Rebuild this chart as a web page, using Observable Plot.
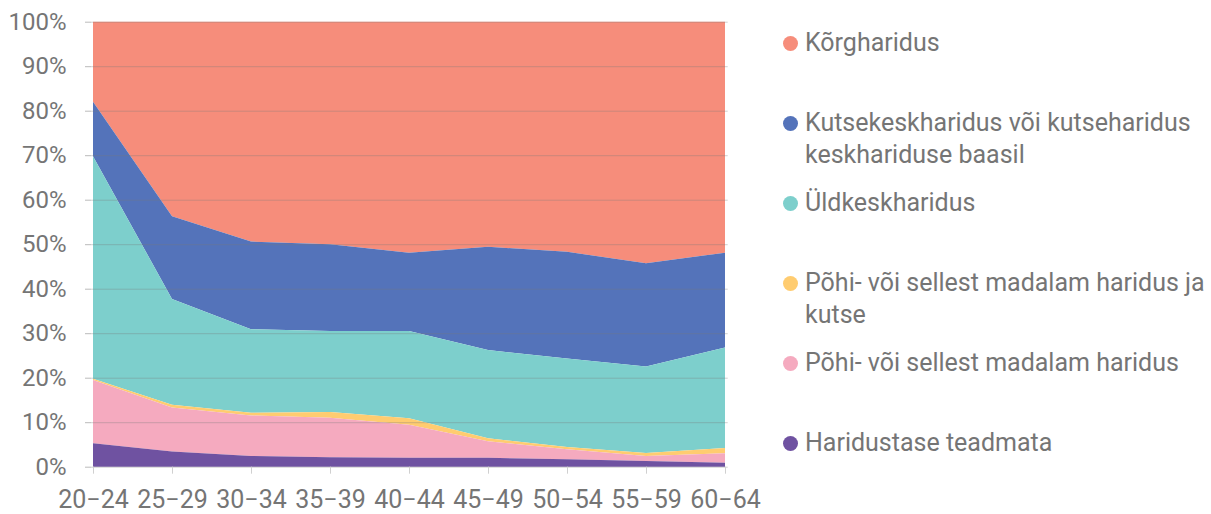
<!DOCTYPE html>
<html><head><meta charset="utf-8">
<script src="https://cdn.jsdelivr.net/npm/d3@7"></script>
<script src="https://cdn.jsdelivr.net/npm/@observablehq/plot@0.6"></script>
<style>
body{margin:0;background:#fff;font-family:Roboto,sans-serif;}
#wrap{position:relative;width:1211px;height:514px;overflow:hidden;}
#chart{position:absolute;left:0;top:0;}
#legend{position:absolute;left:783px;top:27px;}
.item{display:flex;align-items:flex-start;height:80px;}
.dot{width:15px;height:15px;border-radius:50%;margin-top:8.5px;flex:none;}
.lab{margin-left:7px;width:415px;font-size:25px;line-height:32px;color:#757575;}
</style></head><body>
<div id="wrap"><div id="chart"></div><div id="legend"></div></div>
<script>
const ageGroups = ["20−24","25−29","30−34","35−39","40−44","45−49","50−54","55−59","60−64"];
// series, listed top (legend order) to bottom
const seriesNames = [
  "Kõrgharidus",
  "Kutsekeskharidus või kutseharidus keskhariduse baasil",
  "Üldkeskharidus",
  "Põhi- või sellest madalam haridus ja kutse",
  "Põhi- või sellest madalam haridus",
  "Haridustase teadmata"
];
const seriesColors = ["#F68D7B","#5473BA","#7DCFCC","#FFCC70","#F5AABF","#6F52A1"];

const korgharidus   = [18.0, 43.7, 49.4, 50.0, 51.9, 50.6, 51.7, 54.3, 51.9];
const kutsekesk     = [12.3, 18.6, 19.7, 19.5, 17.6, 23.2, 24.0, 23.2, 21.3];
const yldkesk       = [50.1, 23.8, 18.8, 18.2, 19.6, 19.8, 19.9, 19.4, 22.6];
const pohiJaKutse   = [0.3, 0.6, 0.6, 1.3, 1.5, 0.7, 0.5, 0.7, 1.2];
const pohi          = [14.2, 9.9, 9.1, 8.9, 7.4, 3.7, 2.2, 1.1, 2.1];
const teadmata      = [5.3, 3.4, 2.4, 2.1, 2.0, 2.0, 1.7, 1.3, 0.9];

const seriesValues = [korgharidus, kutsekesk, yldkesk, pohiJaKutse, pohi, teadmata];
const yTicks = [0,0.1,0.2,0.3,0.4,0.5,0.6,0.7,0.8,0.9,1];

const data = [];
seriesNames.forEach((s, i) => {
  ageGroups.forEach((a, j) => data.push({age: a, series: s, value: seriesValues[i][j]}));
});
const stackOrder = seriesNames.slice().reverse(); // bottom to top

const chart = Plot.plot({
  width: 760, height: 514,
  marginLeft: 91, marginRight: 32.3, marginTop: 21.7, marginBottom: 47.3,
  style: {fontFamily: "Roboto, sans-serif", fontSize: "24px", color: "#757575", background: "#fff", overflow: "visible"},
  x: {type: "point", domain: ageGroups, padding: 0, label: null},
  y: {domain: [0, 1], label: null},
  color: {domain: seriesNames, range: seriesColors},
  marks: [
    Plot.areaY(data, {x: "age", y: "value", z: "series", fill: "series", order: stackOrder, offset: "normalize"}),
    Plot.gridY(yTicks, {stroke: "#777", strokeOpacity: 0.35}),
    Plot.axisY(yTicks, {tickSize: 6, tickPadding: 19, stroke: "#bbb", fill: "#757575", fontSize: 24, tickFormat: d3.format(".0%"), label: null}),
    Plot.axisX({tickSize: 7, tickPadding: 16, stroke: "#d0d0d0", fill: "#757575", fontSize: 25, label: null})
  ]
});
document.getElementById("chart").appendChild(chart);

const legend = document.getElementById("legend");
seriesNames.forEach((s, i) => {
  const item = document.createElement("div");
  item.className = "item";
  const dot = document.createElement("div");
  dot.className = "dot";
  dot.style.background = seriesColors[i];
  const lab = document.createElement("div");
  lab.className = "lab";
  lab.textContent = s;
  item.appendChild(dot); item.appendChild(lab);
  legend.appendChild(item);
});
</script>
</body></html>
